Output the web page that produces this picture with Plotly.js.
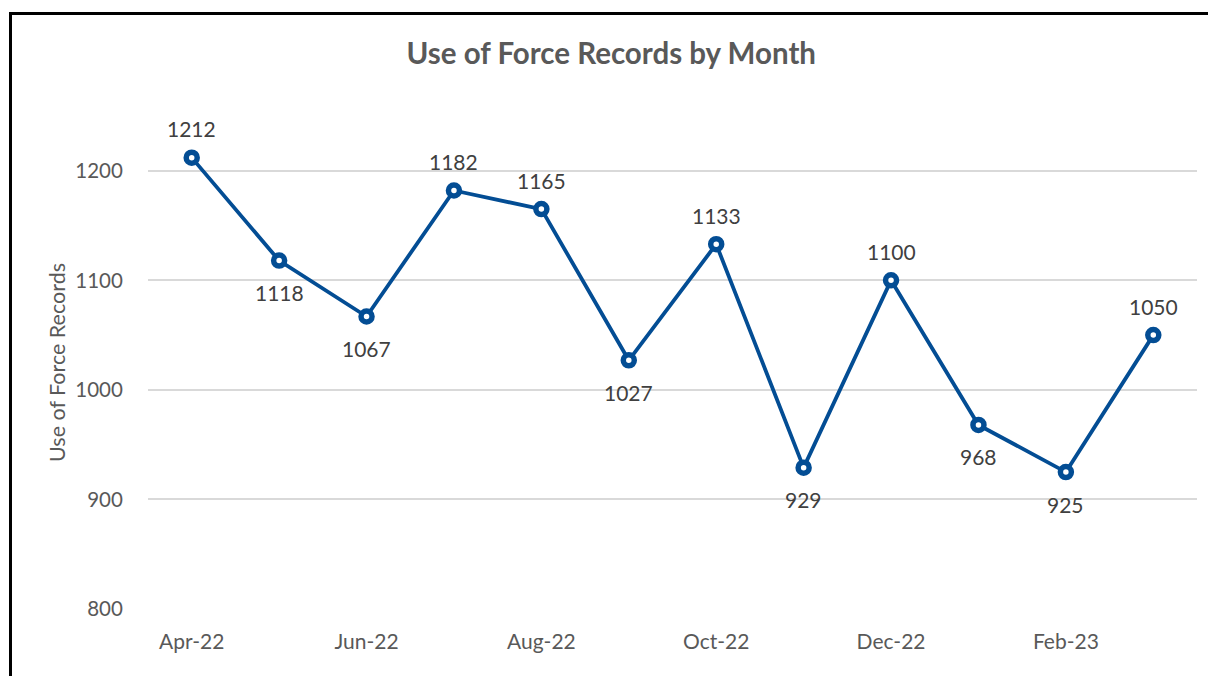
<!DOCTYPE html>
<html>
<head>
<meta charset="utf-8">
<script src="https://cdn.plot.ly/plotly-3.0.1.min.js"></script>
<style>
html,body{margin:0;padding:0;background:#fff;}
#wrap{position:relative;width:1208px;height:676px;overflow:hidden;}
#chart{width:1208px;height:676px;}
#frame{position:absolute;left:9px;top:12px;width:1400px;height:900px;border-left:3px solid #000;border-top:3px solid #000;pointer-events:none;}
</style>
</head>
<body>
<div id="wrap"><div id="chart"></div><div id="frame"></div></div>
<script>
const months = ["Apr-22","May-22","Jun-22","Jul-22","Aug-22","Sep-22","Oct-22","Nov-22","Dec-22","Jan-23","Feb-23","Mar-23"];
const records = [1212,1118,1067,1182,1165,1027,1133,929,1100,968,925,1050];
const labelAbove = [true,false,false,true,true,false,true,false,true,false,false,true];
const xTicks = ["Apr-22","Jun-22","Aug-22","Oct-22","Dec-22","Feb-23"];
const yTicks = [800,900,1000,1100,1200];

const FONT = "Lato, 'Open Sans', sans-serif";
const trace = {
  x: months, y: records, type: "scatter", mode: "lines+markers",
  line: {color: "#034D94", width: 3.8},
  marker: {symbol: "circle", size: 11, color: "#ffffff", line: {color: "#034D94", width: 5.5}},
  cliponaxis: false, hoverinfo: "x+y"
};
const annotations = records.map((v, i) => ({
  x: months[i], y: v, xref: "x", yref: "y", text: String(v), showarrow: false,
  yshift: labelAbove[i] ? 29 : -32,
  font: {family: FONT, size: 21, color: "#404040"}
}));
const layout = {
  width: 1208, height: 676,
  margin: {l: 147.5, r: 10.5, t: 116, b: 67},
  paper_bgcolor: "#ffffff", plot_bgcolor: "#ffffff",
  showlegend: false,
  annotations: annotations,
  title: {text: "<b>Use of Force Records by Month</b>", x: 0.506, xanchor: "center", y: 0.921, yanchor: "middle",
          font: {family: FONT, size: 29.5, color: "#595959"}},
  xaxis: {type: "category", tickmode: "array", tickvals: xTicks, ticktext: xTicks,
          range: [-0.5, 11.5], showgrid: false, zeroline: false, showline: false,
          ticks: "outside", ticklen: 14, tickcolor: "rgba(0,0,0,0)",
          tickfont: {family: FONT, size: 21, color: "#595959"}},
  yaxis: {range: [800, 1250], tickmode: "array", tickvals: yTicks, ticktext: yTicks.map(String),
          showgrid: true, gridcolor: "#d9d9d9", gridwidth: 1.5, zeroline: false, showline: false,
          ticks: "outside", ticklen: 20, tickcolor: "rgba(0,0,0,0)",
          tickfont: {family: FONT, size: 20.5, color: "#595959"},
          title: {text: "Use of Force Records", standoff: 3, font: {family: FONT, size: 21.5, color: "#595959"}}}
};
Plotly.newPlot("chart", [trace], layout, {displayModeBar: false});
</script>
</body>
</html>
